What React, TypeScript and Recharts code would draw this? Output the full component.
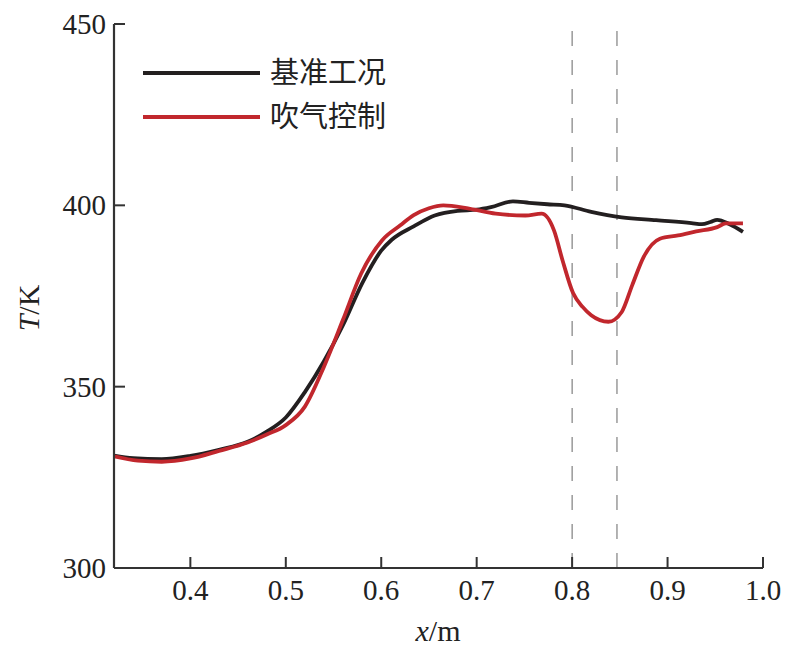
import React from 'react';
import {
  LineChart,
  Line,
  XAxis,
  YAxis,
  ReferenceLine,
  Legend,
} from 'recharts';

// x positions (m) and temperatures (K)
const baseX = [
  0.32, 0.34, 0.37, 0.4, 0.43, 0.46, 0.48, 0.5, 0.52, 0.54, 0.56, 0.58, 0.6, 0.611, 0.634, 0.656,
  0.68, 0.7, 0.715, 0.738, 0.755, 0.774, 0.792, 0.82, 0.852, 0.888, 0.925, 0.936, 0.945, 0.952,
  0.965, 0.979,
];
const baseT = [
  331.0, 330.3, 330.0, 330.9, 332.6, 334.8, 337.6, 341.5, 348.5, 357.0, 367.0, 378.5, 387.5, 390.5,
  394.2, 397.2, 398.5, 398.8, 399.5, 401.1, 400.7, 400.3, 400.0, 398.2, 396.7, 395.9, 395.1, 394.8,
  395.4, 396.0, 394.8, 392.7,
];

const blowX = [
  0.32, 0.345, 0.37, 0.4, 0.43, 0.46, 0.48, 0.5, 0.52, 0.54, 0.56, 0.579, 0.601, 0.62, 0.634, 0.65,
  0.665, 0.692, 0.72, 0.751, 0.768, 0.781, 0.79, 0.801, 0.811, 0.82, 0.838, 0.852, 0.863, 0.875,
  0.892, 0.911, 0.93, 0.952, 0.961, 0.979,
];
const blowT = [
  330.8, 329.6, 329.3, 330.2, 332.3, 334.6, 336.8, 339.4, 344.5, 355.5, 368.5, 381.2, 390.4, 394.5,
  397.3, 399.2, 400.0, 399.1, 397.7, 397.2, 397.7, 393.1, 384.8, 375.8, 372.0, 369.7, 367.9, 370.6,
  378.0, 385.8, 390.8, 391.7, 392.8, 394.0, 395.0, 395.0,
];

const seriesNames = ['基准工况', '吹气控制'];
const xTicks = [0.4, 0.5, 0.6, 0.7, 0.8, 0.9, 1.0];
const yTicks = [300, 350, 400, 450];
const markers = [0.8, 0.847];

const baseData = baseX.map((x, i) => ({ x, t: baseT[i] }));
const blowData = blowX.map((x, i) => ({ x, t: blowT[i] }));

const FONT = '"Liberation Serif", "Noto Sans CJK SC", serif';
const AXIS = '#333';

const XTick = (props: any) => {
  const { x, y, payload } = props;
  return (
    <g>
      <line x1={x} y1={y} x2={x} y2={y - 11} stroke={AXIS} strokeWidth={2} />
      <text x={x} y={y + 32} textAnchor="middle" fontFamily={FONT} fontSize={29} fill="#222">
        {payload.value.toFixed(1)}
      </text>
    </g>
  );
};

const YTick = (props: any) => {
  const { x, y, payload } = props;
  return (
    <g>
      <line x1={x} y1={y} x2={x + 11} y2={y} stroke={AXIS} strokeWidth={2} />
      <text x={x - 8} y={y + 10} textAnchor="end" fontFamily={FONT} fontSize={29} fill="#222">
        {payload.value}
      </text>
    </g>
  );
};

const LegendBox = (props: any) => {
  const items = [...(props.payload || [])].sort(
    (a: any, b: any) => seriesNames.indexOf(a.value) - seriesNames.indexOf(b.value)
  );
  return (
    <div>
      {items.map((p: any) => (
        <div key={p.value} style={{ display: 'flex', alignItems: 'center', height: 44 }}>
          <svg width={117} height={8}>
            <line x1={0} y1={4} x2={117} y2={4} stroke={p.color} strokeWidth={4} />
          </svg>
          <span style={{ marginLeft: 10, fontFamily: FONT, fontSize: 29, color: '#222', lineHeight: '44px' }}>
            {p.value}
          </span>
        </div>
      ))}
    </div>
  );
};

export default function App() {
  return (
    <div style={{ position: 'absolute', left: 0, top: 0, background: '#fff' }}>
      <LineChart width={798} height={651} margin={{ top: 24, right: 35, bottom: 23, left: 14 }}>
        <XAxis
          xAxisId="b"
          type="number"
          dataKey="x"
          domain={[0.32, 1.0]}
          ticks={xTicks}
          allowDataOverflow
          tickSize={0}
          tickMargin={0}
          tick={<XTick />}
          height={60}
          axisLine={{ stroke: AXIS, strokeWidth: 2.2 }}
          label={{
            content: () => (
              <text x={438} y={641} textAnchor="middle" fontFamily={FONT} fontSize={30} fill="#222">
                <tspan fontStyle="italic">x</tspan>/m
              </text>
            ),
          }}
        />
        <XAxis
          xAxisId="t"
          orientation="top"
          type="number"
          dataKey="x"
          domain={[0.32, 1.0]}
          tick={false}
          tickLine={false}
          height={0}
          axisLine={{ stroke: AXIS, strokeWidth: 2.2 }}
        />
        <YAxis
          yAxisId="l"
          type="number"
          domain={[300, 450]}
          ticks={yTicks}
          allowDataOverflow
          tickSize={0}
          tickMargin={0}
          tick={<YTick />}
          width={100}
          axisLine={{ stroke: AXIS, strokeWidth: 2.2 }}
          label={{
            content: () => (
              <text
                x={39}
                y={308}
                textAnchor="middle"
                transform="rotate(-90, 39, 308)"
                fontFamily={FONT}
                fontSize={30}
                fill="#222"
              >
                <tspan fontStyle="italic">T</tspan>/K
              </text>
            ),
          }}
        />
        <YAxis
          yAxisId="r"
          orientation="right"
          type="number"
          domain={[300, 450]}
          tick={false}
          tickLine={false}
          width={0}
          axisLine={{ stroke: AXIS, strokeWidth: 2.2 }}
        />
        {markers.map((m) => (
          <ReferenceLine
            key={m}
            x={m}
            xAxisId="b"
            yAxisId="l"
            stroke="#666"
            strokeWidth={1}
            strokeDasharray="15 14"
          />
        ))}
        <Legend
          verticalAlign="middle"
          align="center"
          layout="horizontal"
          content={<LegendBox />}
          wrapperStyle={{ position: 'absolute', left: 143, top: 51, width: 300 }}
        />
        <Line
          xAxisId="b"
          yAxisId="l"
          data={baseData}
          dataKey="t"
          name={seriesNames[0]}
          type="monotone"
          stroke="#231f20"
          strokeWidth={3.8}
          dot={false}
          isAnimationActive={false}
        />
        <Line
          xAxisId="b"
          yAxisId="l"
          data={blowData}
          dataKey="t"
          name={seriesNames[1]}
          type="monotone"
          stroke="#c1272d"
          strokeWidth={3.8}
          dot={false}
          isAnimationActive={false}
        />
      </LineChart>
    </div>
  );
}
